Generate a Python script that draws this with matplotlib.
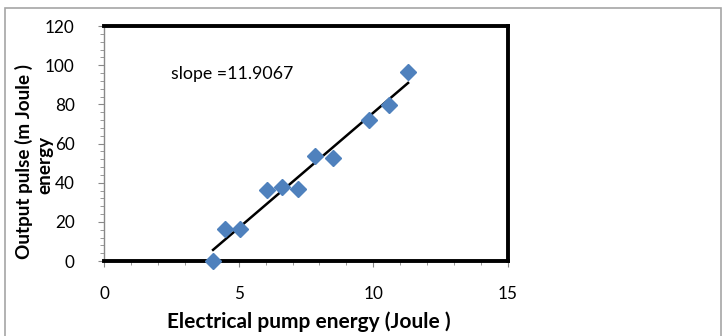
import matplotlib
matplotlib.use('Agg')
import matplotlib.pyplot as plt
from matplotlib.patches import Rectangle
import numpy as np

# data
pump_energy = [4.05, 4.5, 5.04, 6.06, 6.61, 7.22, 7.83, 8.5, 9.85, 10.57, 11.29]
pulse_energy = [0.0, 16.5, 16.3, 36.1, 37.6, 36.9, 53.6, 52.4, 72.2, 79.8, 96.4]
slope_text = 'slope =11.9067'
x_ticks = [0, 5, 10, 15]
y_ticks = [0, 20, 40, 60, 80, 100, 120]

plt.rcParams['font.family'] = ['Lato', 'DejaVu Sans']

fig = plt.figure(figsize=(7.25, 3.36), dpi=100)
ax = fig.add_axes([0.1434, 0.2232, 0.5573, 0.6994])

# grey frame round the chart
fig.patches.append(Rectangle((5/725, -0.05), 716/725, 1.05 - 8/336,
                             transform=fig.transFigure, fill=False,
                             edgecolor='#a6a6a6', linewidth=1.2))

# linear trend line
k, b = np.polyfit(pump_energy, pulse_energy, 1)
xs = np.array([min(pump_energy), max(pump_energy)])
ax.plot(xs, k*xs + b, color='black', linewidth=1.8, zorder=2)

ax.plot(pump_energy, pulse_energy, linestyle='none', marker='D',
        markersize=8, color='#4f81bd', zorder=3, clip_on=False)

ax.text(2.48, 95.5, slope_text, fontsize=12.8, va='center', ha='left')

ax.set_xlim(0, 15)
ax.set_ylim(0, 120)
ax.set_xticks(x_ticks)
ax.set_yticks(y_ticks)
ax.set_xticks(np.arange(0, 16, 1), minor=True)
ax.set_yticks(np.arange(0, 121, 4), minor=True)

ax.tick_params(axis='both', which='major', direction='out', length=4,
               color='#888888', labelsize=12.3)
ax.tick_params(axis='both', which='minor', direction='out', length=3,
               color='#888888')
ax.tick_params(axis='x', pad=14)
ax.tick_params(axis='y', pad=17)

for s in ['top', 'right', 'bottom']:
    ax.spines[s].set_linewidth(2.8)
    ax.spines[s].set_color('black')
ax.spines['left'].set_linewidth(1.0)
ax.spines['left'].set_color('#888888')

ax.set_xlabel('Electrical pump energy (Joule )', fontsize=15, fontweight='bold')
ax.xaxis.set_label_coords(0.507, -0.215)

# y title wraps onto a second line in the original
ax.set_ylabel('Output pulse (m Joule )', fontsize=13.6, fontweight='bold')
ax.yaxis.set_label_coords(-0.176, 0.423)
ax.text(-0.147, 0.409, 'energy', transform=ax.transAxes, rotation=90,
        fontsize=13.6, fontweight='bold', ha='center', va='center')

fig.savefig('out.png', dpi=100)
